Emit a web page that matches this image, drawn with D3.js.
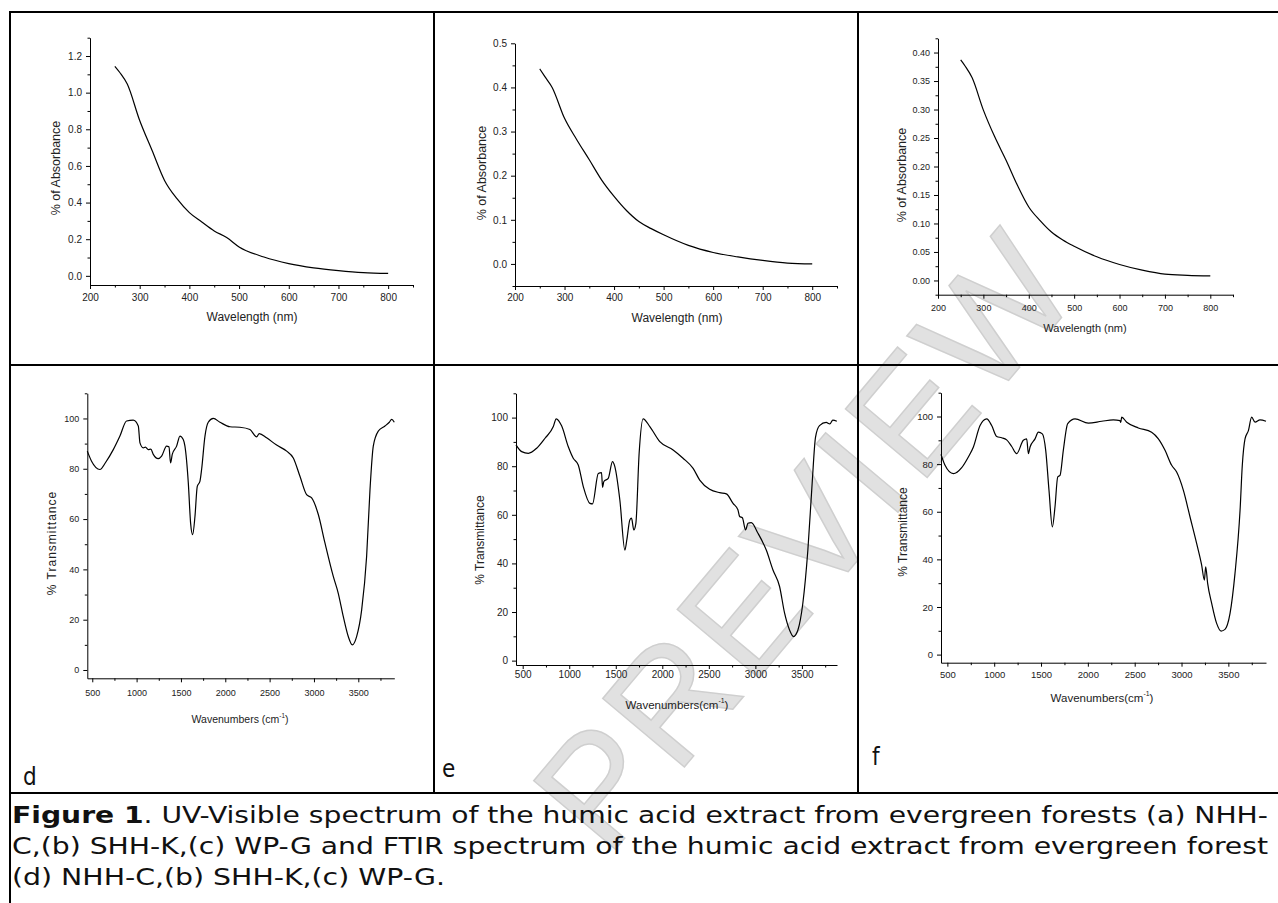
<!DOCTYPE html>
<html>
<head>
<meta charset="utf-8">
<script src="https://cdn.jsdelivr.net/npm/d3@7"></script>
<style>
body { margin: 0; background: #fff; }
svg { display: block; }
</style>
</head>
<body>
<script>
// UV-Vis spectra: wavelength (nm) and absorbance for the three extracts
const uvWavelength = [250, 260, 275, 300, 325, 350, 375, 400, 425, 450, 475, 500, 550, 600, 650, 700, 750, 800];
const absNHH = [1.144, 1.11, 1.047, 0.848, 0.684, 0.521, 0.421, 0.345, 0.294, 0.245, 0.209, 0.158, 0.103, 0.067, 0.044, 0.029, 0.018, 0.013];
const absSHH = [0.442, 0.425, 0.400, 0.330, 0.281, 0.236, 0.190, 0.153, 0.121, 0.096, 0.080, 0.066, 0.042, 0.026, 0.016, 0.008, 0.002, 0.000];
const absWPG = [0.387, 0.376, 0.356, 0.299, 0.252, 0.211, 0.167, 0.129, 0.105, 0.085, 0.071, 0.060, 0.0415, 0.028, 0.018, 0.011, 0.009, 0.008];

// FTIR spectra: wavenumber (cm-1) and % transmittance
const wnNHH = [444, 492, 586, 650, 737, 812, 887, 962, 1019, 1038, 1075, 1100, 1132, 1160, 1188, 1244, 1282, 1338, 1365, 1383, 1402, 1451, 1489, 1526, 1545, 1583, 1609, 1632, 1658, 1684, 1714, 1733, 1771, 1808, 1865, 1940, 2053, 2165, 2278, 2353, 2383, 2466, 2579, 2692, 2767, 2842, 2917, 2974, 3049, 3124, 3218, 3274, 3331, 3387, 3432, 3481, 3538, 3594, 3632, 3669, 3726, 3801, 3850, 3876, 3906];
const trNHH = [87.0, 83.0, 79.7, 82.5, 87.6, 93, 99, 99.3, 97, 90.3, 88.3, 88.6, 87.6, 87.8, 85.7, 84, 85, 89, 88.7, 82.3, 85.7, 89, 93, 91.6, 89, 74.4, 58.4, 53.8, 61, 73, 75, 79.7, 93, 98.5, 100, 98.5, 96.7, 96.5, 95.6, 92.7, 94, 92.3, 89.4, 87, 84.3, 77, 69.7, 68.4, 61.8, 50.5, 37.2, 30.5, 21.2, 13.3, 10, 13.3, 23.9, 45.2, 71.7, 89, 95, 97, 98.5, 99.6, 98.5];

const wnSHH = [428, 489, 561, 650, 740, 829, 860, 918, 990, 1043, 1097, 1151, 1222, 1250, 1312, 1347, 1358, 1372, 1419, 1465, 1490, 1544, 1598, 1620, 1651, 1669, 1694, 1716, 1751, 1794, 1866, 1973, 2116, 2223, 2331, 2402, 2509, 2617, 2688, 2760, 2813, 2831, 2860, 2895, 2920, 2956, 3028, 3117, 3189, 3260, 3314, 3367, 3410, 3457, 3510, 3564, 3610, 3646, 3689, 3761, 3800, 3832, 3875];
const trSHH = [88.8, 86, 85.3, 87.4, 91.5, 96.3, 99.5, 96.6, 88, 83.3, 80.5, 71.6, 64.7, 64.5, 77, 77.4, 71.3, 73.7, 75, 81.9, 79.8, 66, 45.5, 50, 57.9, 58.6, 53.8, 56.5, 85.3, 99.5, 96.3, 90.1, 86.7, 83.3, 79.1, 74.3, 70.5, 69.1, 68.6, 64.7, 62, 59.3, 58.8, 53.8, 56.5, 56.8, 52.4, 45.5, 37.3, 30.5, 19.5, 12.6, 9.9, 12.6, 23.6, 45.5, 73, 91.9, 96.7, 98, 97.4, 99, 98.5];

const wnWPG = [432, 475, 564, 653, 724, 778, 849, 920, 973, 1027, 1080, 1133, 1187, 1240, 1311, 1347, 1365, 1383, 1436, 1472, 1514, 1550, 1585, 1621, 1649, 1678, 1703, 1738, 1785, 1863, 2005, 2148, 2272, 2343, 2351, 2361, 2415, 2539, 2681, 2753, 2824, 2895, 2948, 3020, 3091, 3162, 3215, 3244, 3258, 3279, 3322, 3375, 3422, 3464, 3518, 3571, 3625, 3649, 3678, 3714, 3749, 3785, 3838, 3902];
const trWPG = [84.1, 79.5, 76, 78.5, 83, 87.2, 96.2, 99, 96.2, 91.6, 91.1, 90.2, 87.4, 84.4, 90, 90.6, 84.4, 87.2, 90.6, 93.4, 92.7, 85.8, 69, 53.6, 62, 74.6, 75.3, 85.8, 97, 99, 97.2, 98, 98.6, 98.3, 97.5, 99.7, 97.6, 95.2, 93.4, 90.6, 85.8, 79.5, 76.7, 69, 57.8, 46.6, 37.6, 31.3, 36.9, 29.9, 21.5, 13.1, 9.9, 10.6, 17.3, 34.1, 60.6, 79.5, 90.6, 94.1, 99.7, 97.6, 98.6, 98];

// tick values
const uvXTicks = [200, 300, 400, 500, 600, 700, 800];
const uvXMinor = [250, 350, 450, 550, 650, 750, 850];
const aYTicks = [0, 0.2, 0.4, 0.6, 0.8, 1.0, 1.2];
const aYMinor = [0.1, 0.3, 0.5, 0.7, 0.9, 1.1, 1.3];
const bYTicks = [0, 0.1, 0.2, 0.3, 0.4, 0.5];
const bYMinor = [-0.05, 0.05, 0.15, 0.25, 0.35, 0.45];
const cYTicks = [0, 0.05, 0.10, 0.15, 0.20, 0.25, 0.30, 0.35, 0.40];
const cYMinor = [-0.025, 0.025, 0.075, 0.125, 0.175, 0.225, 0.275, 0.325, 0.375, 0.425];
const irXTicks = [500, 1000, 1500, 2000, 2500, 3000, 3500];
const irXMinor = [750, 1250, 1750, 2250, 2750, 3250, 3750];
const irYTicks = [0, 20, 40, 60, 80, 100];
const irYMinor = [10, 30, 50, 70, 90, 110];

const panelLetters = ["d", "e", "f"];
const captionLines = [
    ["Figure 1", ". UV-Visible spectrum of the humic acid extract from evergreen forests (a) NHH-"],
    ["", "C,(b) SHH-K,(c) WP-G and FTIR spectrum of the humic acid extract from evergreen forest"],
    ["", "(d) NHH-C,(b) SHH-K,(c) WP-G."]
];

const chartFont = "'Liberation Sans', Arial, sans-serif";
const capFont = "'DejaVu Sans Condensed', 'DejaVu Sans', Verdana, sans-serif";

const svg = d3.select("body").append("svg")
    .attr("width", 1278)
    .attr("height", 903);

// PREVIEW watermark behind everything
svg.append("text")
    .attr("transform", "translate(805,540) rotate(-50)")
    .attr("text-anchor", "middle")
    .attr("dominant-baseline", "central")
    .attr("font-family", chartFont)
    .attr("font-size", 155)
    .attr("letter-spacing", 4)
    .attr("fill", "#e1e1e1")
    .attr("stroke", "#cfcfcf")
    .attr("stroke-width", 1.5)
    .text("PREVIEW");

// table lines
const grid = svg.append("g").attr("stroke", "#000").attr("stroke-width", 2);
grid.append("line").attr("x1", 9).attr("y1", 12).attr("x2", 1278).attr("y2", 12);
grid.append("line").attr("x1", 10).attr("y1", 11).attr("x2", 10).attr("y2", 903);
grid.append("line").attr("x1", 9).attr("y1", 365).attr("x2", 1278).attr("y2", 365);
grid.append("line").attr("x1", 9).attr("y1", 793).attr("x2", 1278).attr("y2", 793);
grid.append("line").attr("x1", 434).attr("y1", 12).attr("x2", 434).attr("y2", 793);
grid.append("line").attr("x1", 858).attr("y1", 12).attr("x2", 858).attr("y2", 793);

function drawPanel(p) {
    const x = d3.scaleLinear().domain(p.xDomain).range(p.xRange);
    const y = d3.scaleLinear().domain(p.yDomain).range(p.yRange);
    const g = svg.append("g");
    const x0 = p.xRange[0], y0 = p.yRange[0];

    // minor ticks
    g.append("g")
        .attr("transform", `translate(0,${y0})`)
        .call(d3.axisBottom(x).tickValues(p.xMinor).tickSize(2.5).tickFormat(""))
        .call(a => a.select(".domain").remove());
    g.append("g")
        .attr("transform", `translate(${x0},0)`)
        .call(d3.axisLeft(y).tickValues(p.yMinor).tickSize(2.5).tickFormat(""))
        .call(a => a.select(".domain").remove());

    // major axes
    const xa = g.append("g")
        .attr("transform", `translate(0,${y0})`)
        .call(d3.axisBottom(x).tickValues(p.xTicks).tickSize(4).tickSizeOuter(0).tickPadding(p.xPad)
            .tickFormat(d3.format("d")));
    const ya = g.append("g")
        .attr("transform", `translate(${x0},0)`)
        .call(d3.axisLeft(y).tickValues(p.yTicks).tickSize(4).tickSizeOuter(0).tickPadding(4)
            .tickFormat(d3.format(p.yFmt)));
    [xa, ya].forEach(a => {
        a.attr("font-family", chartFont).attr("font-size", p.tickFont);
        a.selectAll("text").attr("fill", "#222");
    });

    // spectrum
    const line = d3.line()
        .x(d => x(d[0]))
        .y(d => y(d[1]))
        .curve(d3.curveMonotoneX);
    g.append("path")
        .datum(d3.zip(p.xs, p.ys))
        .attr("fill", "none")
        .attr("stroke", "#000")
        .attr("stroke-width", 1.2)
        .attr("d", line);

    // axis titles
    const xt = g.append("text")
        .attr("x", p.xLabel[0])
        .attr("y", p.xLabel[1])
        .attr("text-anchor", "middle")
        .attr("dominant-baseline", "central")
        .attr("font-family", chartFont)
        .attr("font-size", p.xLabelSize)
        .attr("fill", "#222");
    xt.append("tspan").text(p.xTitle[0]);
    if (p.xTitle.length > 1) {
        xt.append("tspan").attr("dy", -p.xLabelSize * 0.4).attr("font-size", p.xLabelSize * 0.6).text(p.xTitle[1]);
        xt.append("tspan").attr("dy", p.xLabelSize * 0.4).text(p.xTitle[2]);
    }

    g.append("text")
        .attr("transform", `translate(${p.yLabel[0]},${p.yLabel[1]}) rotate(-90)`)
        .attr("text-anchor", "middle")
        .attr("dominant-baseline", "central")
        .attr("font-family", chartFont)
        .attr("font-size", p.yLabelSize)
        .attr("letter-spacing", p.ySpacing || 0)
        .attr("fill", "#222")
        .text(p.yTitle);
}

const uvCommon = {xs: uvWavelength, xDomain: [200, 850], xTicks: uvXTicks, xMinor: uvXMinor,
    xTitle: ["Wavelength (nm)"], yTitle: "% of Absorbance"};
const irCommon = {xTicks: irXTicks, xMinor: irXMinor, yTicks: irYTicks, yMinor: irYMinor,
    yFmt: "d", yTitle: "% Transmittance"};

drawPanel(Object.assign({}, uvCommon, {
    ys: absNHH, xRange: [90, 413], yDomain: [-0.05, 1.3], yRange: [285, 37.7],
    yTicks: aYTicks, yMinor: aYMinor, yFmt: ".1f", tickFont: 10, xPad: 5,
    xLabel: [252, 317], xLabelSize: 12, yLabel: [56, 168], yLabelSize: 12.5
}));
drawPanel(Object.assign({}, uvCommon, {
    ys: absSHH, xRange: [515, 837], yDomain: [-0.05, 0.5], yRange: [286, 43.3],
    yTicks: bYTicks, yMinor: bYMinor, yFmt: ".1f", tickFont: 10, xPad: 4,
    xLabel: [677, 318], xLabelSize: 12, yLabel: [482, 173], yLabelSize: 12.5
}));
drawPanel(Object.assign({}, uvCommon, {
    ys: absWPG, xRange: [938, 1233], yDomain: [-0.025, 0.425], yRange: [294.7, 38.3],
    yTicks: cYTicks, yMinor: cYMinor, yFmt: ".2f", tickFont: 9, xPad: 6,
    xLabel: [1085, 328], xLabelSize: 11, yLabel: [902, 175], yLabelSize: 12.5
}));
drawPanel(Object.assign({}, irCommon, {
    xs: wnNHH, ys: trNHH, xDomain: [444, 3906], xRange: [87.3, 394.3],
    yDomain: [-3.3, 110], yRange: [678.3, 393.3], tickFont: 9, xPad: 7,
    xTitle: ["Wavenumbers (cm", "-1", ")"], xLabel: [240, 719], xLabelSize: 10.5,
    yLabel: [52, 543], yLabelSize: 12, ySpacing: 1
}));
drawPanel(Object.assign({}, irCommon, {
    xs: wnSHH, ys: trSHH, xDomain: [428, 3877], xRange: [516, 837],
    yDomain: [-1.8, 110], yRange: [665, 393.3], tickFont: 10, xPad: 2,
    xTitle: ["Wavenumbers(cm", "-1", ")"], xLabel: [677, 705], xLabelSize: 11.5,
    yLabel: [480, 540], yLabelSize: 12
}));
drawPanel(Object.assign({}, irCommon, {
    xs: wnWPG, ys: trWPG, xDomain: [432, 3902], xRange: [941, 1266],
    yDomain: [-3.4, 110], yRange: [662.7, 392.7], tickFont: 9.5, xPad: 5,
    xTitle: ["Wavenumbers(cm", "-1", ")"], xLabel: [1102, 698], xLabelSize: 11.5,
    yLabel: [903, 532], yLabelSize: 12
}));

// panel letters d, e, f
const letterPos = [[23, 785], [442, 777], [872, 765]];
svg.selectAll(".panel-letter")
    .data(panelLetters)
    .enter().append("text")
    .attr("class", "panel-letter")
    .attr("x", (d, i) => letterPos[i][0])
    .attr("y", (d, i) => letterPos[i][1])
    .attr("font-family", capFont)
    .attr("font-size", 24)
    .attr("fill", "#111")
    .text(d => d);

// caption
const capY = [823, 854, 885];
const capLen = [1256, 1256, 433];
captionLines.forEach((ln, i) => {
    const t = svg.append("text")
        .attr("x", 12)
        .attr("y", capY[i])
        .attr("font-family", capFont)
        .attr("font-size", 23.5)
        .attr("fill", "#111")
        .attr("textLength", capLen[i])
        .attr("lengthAdjust", "spacingAndGlyphs");
    if (ln[0]) t.append("tspan").attr("font-weight", "bold").text(ln[0]);
    t.append("tspan").text(ln[1]);
});
</script>
</body>
</html>
